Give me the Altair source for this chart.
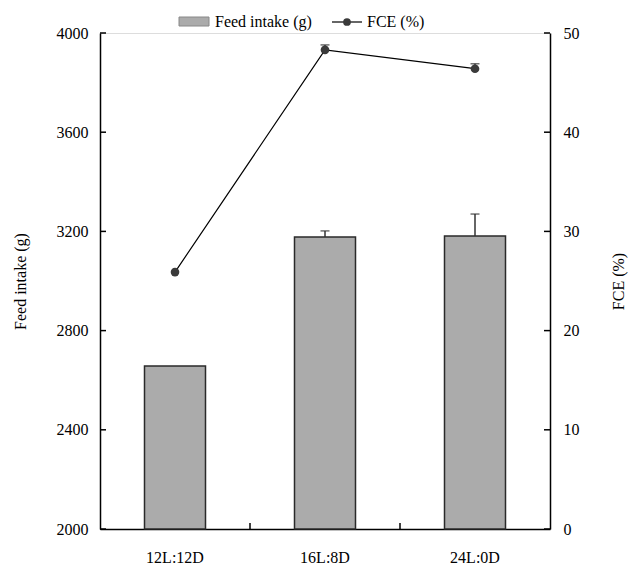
import altair as alt
import pandas as pd

# ---- data ----
categories = ["12L:12D", "16L:8D", "24L:0D"]
feed_intake = [2657, 3177, 3181]          # g
feed_err = [0, 25, 89]                    # upper error (g)
fce = [25.9, 48.3, 46.4]                  # %
fce_err = [0, 0.5, 0.5]                   # upper error (%)
left_ticks = [2000, 2400, 2800, 3200, 3600, 4000]
right_ticks = [0, 10, 20, 30, 40, 50]

FONT = "Liberation Serif"

df = pd.DataFrame({
    "cat": categories,
    "feed": feed_intake,
    "feed_hi": [v + e for v, e in zip(feed_intake, feed_err)],
    "fce": fce,
    "fce_hi": [v + e for v, e in zip(fce, fce_err)],
})
df_err_feed = df[df["feed_hi"] > df["feed"]]
df_err_fce = df[df["fce_hi"] > df["fce"]]

xscale = alt.Scale(domain=categories, paddingInner=0, paddingOuter=0)
yl_scale = alt.Scale(domain=[2000, 4000], zero=False, nice=False)
yr_scale = alt.Scale(domain=[0, 50], zero=False, nice=False)

x_axis = alt.Axis(title=None, orient="bottom", ticks=False, tickSize=0, labelPadding=20,
                  labelAngle=0, domain=True, labels=True,
                  domainColor="black", domainWidth=1.5, labelFontSize=16,
                  labelColor="black", labelFont=FONT)
X = alt.X("cat:N", scale=xscale, axis=x_axis)

left_axis = alt.Axis(title="Feed intake (g)", orient="left", values=left_ticks, format="d",
                     ticks=False, tickSize=0, labelPadding=12, grid=False,
                     domainColor="black", domainWidth=1.5,
                     labelFontSize=16, labelColor="black", labelFont=FONT,
                     titleFontSize=16, titleFontWeight="normal", titleColor="black",
                     titleFont=FONT, titleAngle=270, titleX=-80, titleY=248,
                     titleAlign="center", titleBaseline="middle")
right_axis = alt.Axis(title="FCE (%)", orient="right", values=right_ticks, format="d",
                      ticks=False, tickSize=0, labelPadding=13, grid=False,
                      domainColor="black", domainWidth=1.5,
                      labelFontSize=16, labelColor="black", labelFont=FONT,
                      titleFontSize=16, titleFontWeight="normal", titleColor="black",
                      titleFont=FONT, titleAngle=270, titleX=68, titleY=248,
                      titleAlign="center", titleBaseline="middle")

base = alt.Chart(df)

bars = base.mark_bar(size=61, fill="#ababab", stroke="#2a2a2a", strokeWidth=1.5).encode(
    x=X,
    y=alt.Y("feed:Q", scale=yl_scale, axis=left_axis),
    y2=alt.datum(2000),
)
feed_err_rule = alt.Chart(df_err_feed).mark_rule(color="#333333", strokeWidth=1.5).encode(
    x=X,
    y=alt.Y("feed:Q", scale=yl_scale, axis=None),
    y2="feed_hi:Q",
)
feed_err_cap = alt.Chart(df_err_feed).mark_tick(color="#333333", size=9, thickness=1.5).encode(
    x=X,
    y=alt.Y("feed_hi:Q", scale=yl_scale, axis=None),
)
lt_df = pd.DataFrame({"v": left_ticks})
lticks = alt.Chart(lt_df).mark_rule(color="black", strokeWidth=1.5).encode(
    y=alt.Y("v:Q", scale=yl_scale, axis=None),
    x=alt.value(0), x2=alt.value(6),
)
xb_df = pd.DataFrame({"cat": categories[:-1]})
xticks = alt.Chart(xb_df).mark_rule(color="black", strokeWidth=1.5).encode(
    x=alt.X("cat:N", scale=xscale, axis=x_axis, bandPosition=1),
    y=alt.value(496), y2=alt.value(490),
)

line = base.mark_line(color="black", strokeWidth=1.2).encode(
    x=X,
    y=alt.Y("fce:Q", scale=yr_scale, axis=right_axis),
)
fce_err_rule = alt.Chart(df_err_fce).mark_rule(color="#333333", strokeWidth=1.5).encode(
    x=X,
    y=alt.Y("fce:Q", scale=yr_scale, axis=None),
    y2="fce_hi:Q",
)
fce_err_cap = alt.Chart(df_err_fce).mark_tick(color="#333333", size=9, thickness=1.5).encode(
    x=X,
    y=alt.Y("fce_hi:Q", scale=yr_scale, axis=None),
)
pts = base.mark_point(filled=True, color="#3a3a3a", size=75, opacity=1).encode(
    x=X,
    y=alt.Y("fce:Q", scale=yr_scale, axis=None),
)
rt_df = pd.DataFrame({"v": right_ticks})
rticks = alt.Chart(rt_df).mark_rule(color="black", strokeWidth=1.5).encode(
    y=alt.Y("v:Q", scale=yr_scale, axis=None),
    x=alt.value(444), x2=alt.value(450),
)

# ---- manual legend at the top ----
one = pd.DataFrame({"a": [0]})
leg_rect = alt.Chart(one).mark_rect(fill="#ababab", stroke="#888888", strokeWidth=1).encode(
    x=alt.value(79), x2=alt.value(109), y=alt.value(-16), y2=alt.value(-7))
leg_t1 = alt.Chart(pd.DataFrame({"t": ["Feed intake (g)"]})).mark_text(
    font=FONT, fontSize=16, align="left", baseline="middle", color="black").encode(
    x=alt.value(115), y=alt.value(-11), text="t:N")
leg_line = alt.Chart(one).mark_rule(color="black", strokeWidth=1.2).encode(
    x=alt.value(232), x2=alt.value(262), y=alt.value(-11))
leg_pt = alt.Chart(one).mark_point(filled=True, color="#3a3a3a", size=60, opacity=1).encode(
    x=alt.value(247), y=alt.value(-11))
leg_t2 = alt.Chart(pd.DataFrame({"t": ["FCE (%)"]})).mark_text(
    font=FONT, fontSize=16, align="left", baseline="middle", color="black").encode(
    x=alt.value(267), y=alt.value(-11), text="t:N")

chart = alt.layer(
    bars, feed_err_rule, feed_err_cap, lticks, xticks,
    line, fce_err_rule, fce_err_cap, pts, rticks,
    leg_rect, leg_t1, leg_line, leg_pt, leg_t2,
).resolve_scale(y="independent").properties(
    width=450, height=496,
    autosize=alt.AutoSizeParams(type="none"),
    padding={"left": 100, "top": 33, "right": 78, "bottom": 37},
    background="white",
).configure_view(stroke=None).configure(font=FONT).configure_axis(
    labelFont=FONT, titleFont=FONT)

chart.save("out.html", embed_options={"renderer": "svg", "actions": False})
